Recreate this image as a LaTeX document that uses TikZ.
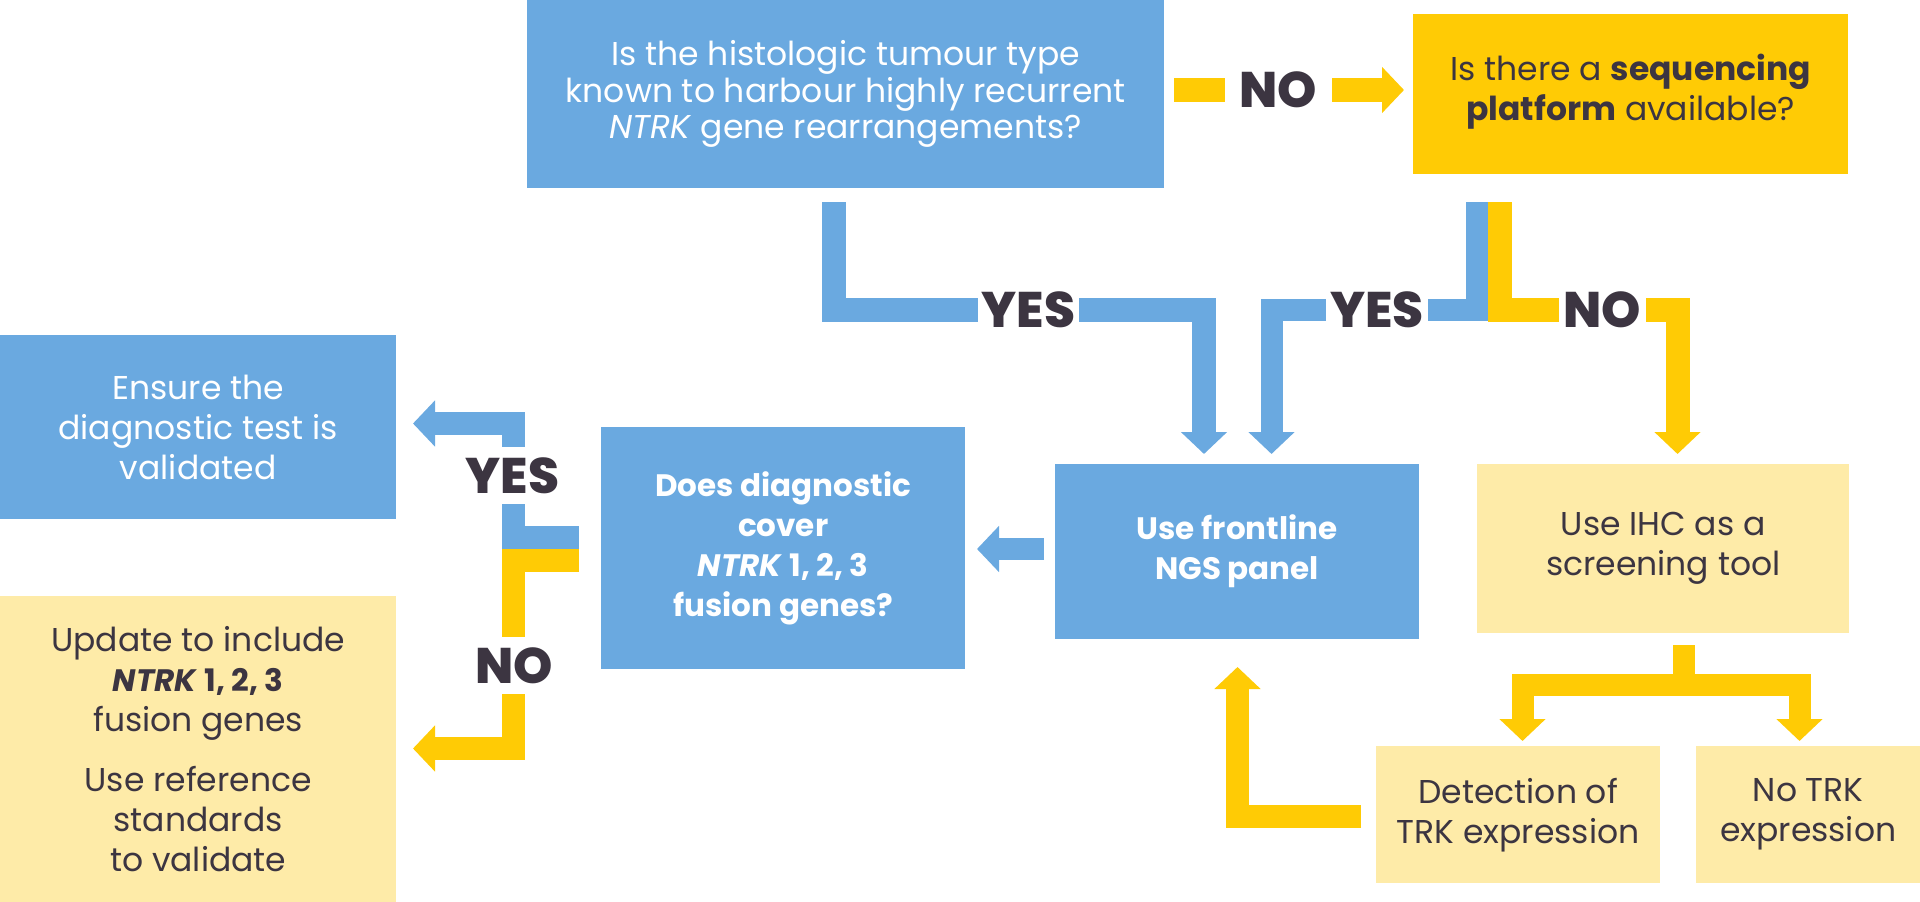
\documentclass[tikz,border=0pt]{standalone}
\usepackage{fontspec}
\setmainfont{Poppins}[Ligatures={NoCommon}]
\newfontfamily\lblfam{Poppins ExtraBold}
\usetikzlibrary{arrows.meta,calc}
\definecolor{cblue}{HTML}{6AA9E0}
\definecolor{cyel}{HTML}{FFCB05}
\definecolor{cpale}{HTML}{FEEBA8}
\definecolor{cdark}{HTML}{3C3541}
\newcommand\mytxt{\fontsize{33}{36.5}\selectfont}
\newcommand\mytxtr{\fontsize{33}{40}\selectfont}
\newcommand\mytxtb{\fontsize{31}{40}\selectfont\bfseries}
\newcommand\mylbl{\fontsize{50}{50}\selectfont\lblfam}
\tikzset{
  box/.style={anchor=north west, inner sep=0pt, align=center},
  bluebox/.style={box, fill=cblue, text=white},
  yelbox/.style={box, fill=cyel, text=cdark},
  palebox/.style={box, fill=cpale, text=cdark},
  bluearrow/.style={draw=cblue, line width=23pt, line join=miter, -{Triangle[length=22pt,width=45pt]}},
  yelarrow/.style={draw=cyel, line width=23pt, line join=miter, -{Triangle[length=22pt,width=45pt]}},
  lbl/.style={fill=white, inner sep=0pt, text=cdark, font=\mylbl},
}
\begin{document}
\begin{tikzpicture}[x=1pt,y=-1pt]
\useasboundingbox (0,0) rectangle (1920,902);

% boxes
\node[bluebox, minimum width=637pt, minimum height=188pt, font=\mytxt] (top) at (527,0)
  {Is the histologic tumour type\\known to harbour highly recurrent\\\textit{NTRK} gene rearrangements?};
\node[yelbox, minimum width=435pt, minimum height=160pt, font=\mytxtr] (seq) at (1413,14)
  {Is there a \textbf{sequencing}\\\textbf{platform} available?\rule[-14pt]{0pt}{0pt}};
\node[bluebox, minimum width=396pt, minimum height=184pt, font=\mytxtr] (ensure) at (0,335)
  {Ensure the\\diagnostic test is\\validated};
\node[palebox, minimum width=396pt, minimum height=306pt, font=\mytxtr] (update) at (0,596)
  {Update to include\\{\fontsize{31}{40}\selectfont\bfseries\textit{NTRK} 1, 2, 3}\\fusion genes\\[20pt]Use reference\\standards\\to validate};
\node[bluebox, minimum width=364pt, minimum height=242pt, font=\mytxtb] (diag) at (601,427)
  {Does diagnostic\\cover\\\textit{NTRK} 1, 2, 3\\fusion genes?};
\node[bluebox, minimum width=364pt, minimum height=175pt, font=\mytxtb] (ngs) at (1055,464)
  {Use frontline\\NGS panel};
\node[palebox, minimum width=372pt, minimum height=169pt, font=\mytxtr] (ihc) at (1477,464)
  {Use IHC as a\\screening tool};
\node[palebox, minimum width=284pt, minimum height=137pt, font=\mytxtr] (det) at (1376,746)
  {Detection of\\TRK expression};
\node[palebox, minimum width=224pt, minimum height=137pt, font=\mytxtr] (notrk) at (1696,746)
  {No TRK\\expression};

% connector end points
\coordinate (topS) at (834,202);
\coordinate (ngsN1) at (1204,454);
\coordinate (ngsN2) at (1271.5,454);
\coordinate (topE) at (1174,90);
\coordinate (seqW) at (1404,90);
\coordinate (seqSb) at (1477,202);
\coordinate (seqSy) at (1500,202);
\coordinate (ihcN) at (1677.5,454);
\coordinate (ngsW) at (1044,549);
\coordinate (diagE) at (977,549);
\coordinate (diagWb) at (579,537.5);
\coordinate (diagWy) at (579,560.5);
\coordinate (ensE) at (413,423.5);
\coordinate (updE) at (413,748.5);
\coordinate (ihcS) at (1684,645);
\coordinate (split) at (1684,684.5);
\coordinate (detN) at (1522.5,741);
\coordinate (notrkN) at (1799.5,741);
\coordinate (detW) at (1361,816.5);
\coordinate (ngsS) at (1237.5,667);

% connectors
\draw[yelarrow, line width=24pt] (topE) -- (seqW);
\draw[bluearrow, line width=24pt] (topS) |- (1204,310) -- (ngsN1);
\draw[bluearrow, line width=22pt] (seqSb) |- (1271.5,310) -- (ngsN2);
\draw[yelarrow, line width=24pt] (seqSy) |- (1677.5,310) -- (ihcN);
\draw[bluearrow, line width=22pt] (ngsW) -- (diagE);
\draw[bluearrow] (diagWb) -- (513.5,537.5) |- (ensE);
\draw[yelarrow] (diagWy) -- (513.5,560.5) |- (updE);
\draw[yelarrow, line width=22pt] (ihcS) -- (split) -| (detN);
\draw[yelarrow, line width=22pt] (split) -| (notrkN);
\draw[yelarrow] (detW) -| (ngsS);

% labels
\node[lbl, minimum width=107pt, minimum height=40pt] (lno1) at (1278.5,90) {NO};
\node[lbl, minimum width=101pt, minimum height=40pt] (lyes1) at (1028.5,310) {YES};
\node[lbl, minimum width=102pt, minimum height=40pt] (lyes2) at (1377,310) {YES};
\node[lbl, minimum width=87pt, minimum height=40pt] (lno2) at (1602.5,310) {NO};
\node[lbl, minimum height=57pt] (lyes3) at (512.5,475.5) {YES};
\node[lbl, minimum height=57pt] (lno3) at (514,665.5) {NO};
\end{tikzpicture}
\end{document}
